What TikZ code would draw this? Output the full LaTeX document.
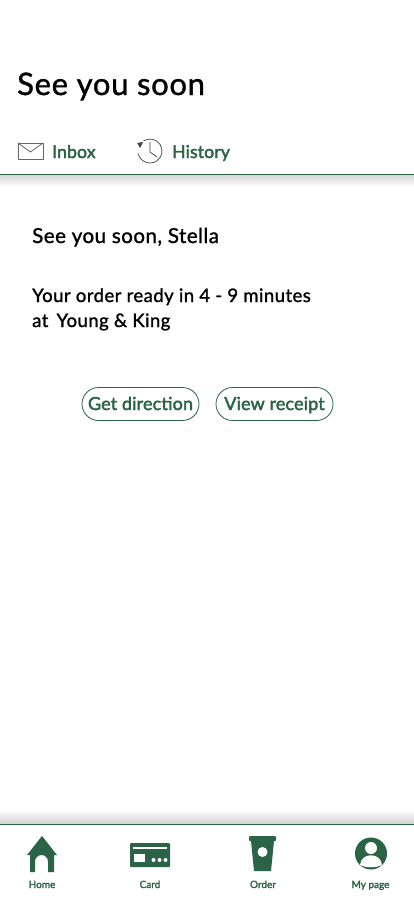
\documentclass[tikz,border=0pt]{standalone}
\usepackage{fontspec}
\setmainfont{Lato}
\usepackage{tikz}
\definecolor{sbgreen}{HTML}{2A6345}
\newfontfamily\medfont[FakeBold=2]{Lato}
\newfontfamily\medwide[FakeBold=1.2,LetterSpace=2.2]{Lato}
\newfontfamily\medtab[FakeBold=2.2,LetterSpace=0.8]{Lato}
\tikzset{
  body/.style={anchor=base west, inner sep=0pt, font=\fontsize{18.6}{18.6}\selectfont\medwide},
  tablabel/.style={anchor=base west, inner sep=0pt, text=sbgreen, font=\fontsize{17.6}{17.6}\selectfont\medtab},
  navlabel/.style={anchor=base, inner sep=0pt, text=sbgreen, font=\fontsize{10}{10}\selectfont\medfont},
  pillbtn/.style={draw=sbgreen, line width=0.8pt, rounded corners=16.5pt, minimum height=33pt, inner sep=0pt,
    text height=16pt, text depth=4pt,
    text=sbgreen, font=\fontsize{18}{18}\selectfont\medtab},
  icongreen/.style={fill=sbgreen, draw=none}
}
\begin{document}
\begin{tikzpicture}[x=1pt, y=-1pt]
  \useasboundingbox (0,0) rectangle (414,897);
  \fill[white] (0,0) rectangle (414,897);
  % top part
  \node[body, font=\fontsize{31}{31}\selectfont\medwide] (title) at (17,95) {See you soon};
  \node[tablabel] (inbox) at (52,158) {Inbox};
  \node[tablabel] (history) at (172,158) {History};
  % envelope
  \draw[gray!80!black, line width=0.8pt] (18,143) rectangle (43,159);
  \draw[gray!80!black, line width=0.8pt] (18,143) -- (30.5,152) -- (43,143);
  % clock
  \draw[black!75, line width=0.7pt] (150,151) ++(-123:12) arc[start angle=-123, end angle=168, radius=12];
  \fill[black!75] (137.3,143) -- (143,142) -- (140,148) -- cycle;
  \draw[black!75, line width=0.7pt] (150,142) -- (150,152) -- (157,157);
  % shadows
  \shade[top color=black!15, bottom color=white] (0,175) rectangle (414,187);
  \shade[top color=white, bottom color=black!18] (0,810) rectangle (414,824);
  \draw[sbgreen, line width=1pt] (0,174.5) -- (414,174.5);
  \draw[sbgreen, line width=1pt] (0,824.5) -- (414,824.5);
  % message
  \node[body, font=\fontsize{20.6}{20.6}\selectfont\medwide] (greet) at (32,243) {See you soon, Stella};
  \node[body] (ready) at (32,302) {Your order ready in 4 - 9 minutes};
  \node[body] (place) at (32,327) {at\hspace{3pt} Young \& King};
  % buttons
  \node[pillbtn, minimum width=117pt] (direction) at (140.5,404) {Get direction};
  \node[pillbtn, minimum width=117pt] (receipt) at (274.5,404) {View receipt};
  % home
  \fill[icongreen] (42,836) -- (57,855) -- (54,855) -- (54,872) -- (48,872) -- (48,861.5)
    arc[start angle=0, end angle=-180, radius=6.5] -- (35,872) -- (30,872) -- (30,855) -- (27,855) -- cycle;
  \node[navlabel] (home) at (42,888) {Home};
  % card
  \fill[icongreen, rounded corners=1pt] (130,843) rectangle (170,867);
  \fill[white] (133,847) rectangle (167,849);
  \fill[white] (134,854) rectangle (145,862);
  \foreach \cx in {154,160,166} {
    \fill[white] (\cx-.5,860) circle[radius=2];
  }
  \node[navlabel] (card) at (150,888) {Card};
  % cup
  \fill[icongreen, rounded corners=1pt] (249,836) rectangle (276,841);
  \fill[icongreen] (251,841) -- (274,841) -- (271,871) -- (254,871) -- cycle;
  \fill[white] (262.5,852) circle[radius=5];
  \node[navlabel] (order) at (263,888) {Order};
  % my page
  \fill[icongreen] (371,853.5) circle[radius=16];
  \fill[white] (371,848) circle[radius=6];
  \fill[white] (360,865) .. controls (361,852) and (381,852) .. (382,865) .. controls (376,868) and (366,868) .. (360,865) -- cycle;
  \node[navlabel] (mypage) at (370.5,888) {My page};
\end{tikzpicture}
\end{document}
